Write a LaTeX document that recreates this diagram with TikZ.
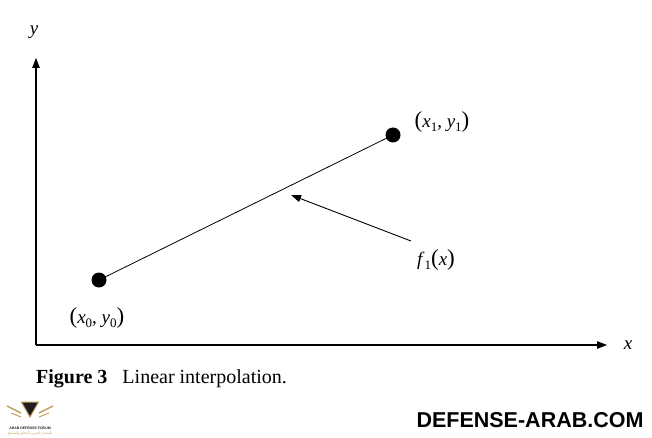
\documentclass[tikz,border=0pt]{standalone}
\usepackage{fontspec}
\setmainfont{Liberation Serif}
\newfontfamily\markfont{Liberation Sans}
\newfontfamily\arabicfont[Script=Arabic]{DejaVu Sans}
\TeXXeTstate=1
\definecolor{logogold}{RGB}{196,158,92}
\definecolor{logodark}{RGB}{30,30,34}
\usetikzlibrary{shapes,arrows.meta,positioning,calc}

\newcommand{\bigpar}[1]{{\fontsize{23}{23}\selectfont#1}}
\newcommand{\lowsub}[1]{\raisebox{-4pt}{\fontsize{13}{13}\selectfont#1}}
\newcommand{\pt}[2]{\bigpar{(}\textit{x}\lowsub{#1}, \textit{y}\lowsub{#2}\bigpar{)}}

\begin{document}
\begin{tikzpicture}[x=1pt,y=-1pt,
    axis/.style={line width=1.1pt, -{Triangle[length=10pt,width=7.5pt]}},
    pointer/.style={line width=0.9pt, -{Triangle[length=10pt,width=7pt]}},
    dot/.style={circle, fill=black, inner sep=0pt, minimum size=15pt},
    lbl/.style={font=\fontsize{19}{22}\selectfont, inner sep=0pt}]
    \useasboundingbox (0,0) rectangle (652,438);
    % axes
    \coordinate (o) at (36,345);
    \coordinate (ytip) at (36,58);
    \coordinate (xtip) at (607,345);
    \draw[axis] (o) -- (ytip);
    \draw[axis] (o) -- (xtip);
    \node[lbl] (ylab) at (34,32) {\textit{y}};
    \node[lbl] (xlab) at (628,345) {\textit{x}};
    % the two points and the interpolating line
    \node[dot] (p0) at (99,280) {};
    \node[dot] (p1) at (393,135) {};
    \draw[line width=0.8pt] (p0.center) -- (p1.center);
    \node[lbl] (p0lab) at (97,318) {\pt{0}{0}};
    \node[lbl] (p1lab) at (442,122) {\pt{1}{1}};
    % label of the line
    \node[lbl] (flab) at (436,260) {\textit{f}\lowsub{1}\bigpar{(}\textit{x}\bigpar{)}};
    \coordinate (ftail) at (411,241);
    \coordinate (fhead) at (291,195);
    \draw[pointer] (ftail) -- (fhead);
    % caption
    \node[anchor=base west, font=\fontsize{20}{24}\selectfont, inner sep=0pt] (cap) at (36,383)
        {\textbf{Figure 3}\hspace{15pt}Linear interpolation.};
    % watermark
    \node[font=\markfont\bfseries\fontsize{21.5}{24}\selectfont, inner sep=0pt] (mark) at (530,420) {DEFENSE-ARAB.COM};
    \node[fill=logodark, draw=logogold, line width=1pt, shape=regular polygon, regular polygon sides=3,
        shape border rotate=180, minimum size=20pt, inner sep=0pt] (shield) at (30,407) {};
    \foreach \s in {-1,1} {
        \draw[logogold, line width=1.5pt] ($(shield.center)+(\s*9,6)$) -- ++(\s*14,-7);
        \draw[logogold, line width=1pt] ($(shield.center)+(\s*9,10)$) -- ++(\s*10,-4);
    }
    \node[font=\markfont\bfseries\fontsize{3.5}{4}\selectfont, text=logodark, inner sep=0pt] (logotext) at (30,428) {ARAB DEFENSE FORUM};
    \node[font=\arabicfont\fontsize{3.5}{4}\selectfont, text=logogold, inner sep=0pt, below=2pt of logotext]
        (logoarabic) {\beginR المنتدى العربي للدفاع والتسليح\endR};
\end{tikzpicture}
\end{document}
